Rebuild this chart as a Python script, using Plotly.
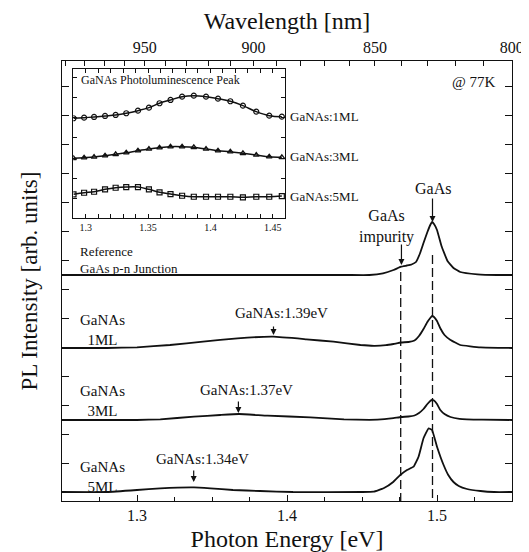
import plotly.graph_objects as go

# ---------------- data ----------------
# Main panel: photon energy [eV] and PL intensity above each spectrum's baseline [arb. units]
E_ref = [1.25, 1.30, 1.35, 1.40, 1.44, 1.455, 1.464, 1.471, 1.476, 1.480, 1.483, 1.486, 1.4885,
         1.491, 1.4936, 1.4955, 1.4967, 1.498, 1.500, 1.503, 1.507, 1.511, 1.5155, 1.527, 1.54, 1.55]
I_ref = [0, 0, 0, 0, 0, 0, 1.7, 5, 8.3, 9.5, 10.5, 13, 21,
         32, 43, 50, 53, 51, 45, 29, 14, 7, 3, 0.7, 0, 0]

E_1ml = [1.25, 1.28, 1.30, 1.322, 1.344, 1.367, 1.391, 1.413, 1.431, 1.449, 1.458, 1.466, 1.471,
         1.476, 1.481, 1.485, 1.488, 1.491, 1.4936, 1.4955, 1.4967, 1.498, 1.500, 1.5022, 1.505,
         1.509, 1.5155, 1.529, 1.55]
I_1ml = [0, 0, 0.7, 3, 6.3, 9.7, 11.3, 8.7, 6.3, 3, 2.2, 2.8, 4,
         5.5, 6, 7.5, 12, 19, 26, 30, 32, 31, 27, 19.7, 13,
         8, 3, 0.7, 0]

E_3ml = [1.25, 1.30, 1.3155, 1.338, 1.3555, 1.368, 1.387, 1.4155, 1.438, 1.455, 1.465, 1.471,
         1.476, 1.481, 1.485, 1.488, 1.491, 1.4936, 1.4955, 1.4967, 1.498, 1.500, 1.5022, 1.505,
         1.509, 1.515, 1.53, 1.55]
I_3ml = [0, 0, 0.7, 3.3, 5, 6, 4.3, 2.7, 0.7, 0.2, 0.8, 1.8,
         3, 3.5, 4.5, 7, 11, 16, 19, 20, 19.5, 16, 10, 6,
         3, 1.2, 0.3, 0]

E_5ml = [1.25, 1.28, 1.30, 1.3155, 1.338, 1.349, 1.364, 1.382, 1.404, 1.45, 1.4577, 1.4644,
         1.471, 1.4755, 1.48, 1.4844, 1.4877, 1.491, 1.4944, 1.4967, 1.500, 1.5044, 1.5075,
         1.511, 1.5145, 1.52, 1.529, 1.538, 1.55]
I_5ml = [0, 0, 2, 3.7, 4.7, 3.7, 2, 1, 0, 0, 0.3, 3.7,
         10.3, 17, 22, 25.3, 35.3, 53.7, 63.7, 62, 45.3, 27, 17,
         10, 6, 3, 1, 0, 0]

# vertical offsets of the stacked spectra
OFF_REF, OFF_1ML, OFF_3ML, OFF_5ML = 217, 144, 72, 0

# Inset: GaNAs photoluminescence peak
E_inset = [1.2902, 1.2987, 1.3067, 1.3155, 1.324, 1.3325, 1.3419, 1.3507, 1.3592, 1.368,
           1.3773, 1.3867, 1.3965, 1.4061, 1.416, 1.4261, 1.4368, 1.4472, 1.4573]
I_inset_1ml = [9.97, 10.03, 10.1, 10.2, 10.3, 10.47, 10.73, 11.03, 11.47, 11.8,
               12.13, 12.23, 12.13, 11.93, 11.67, 11.23, 10.63, 10.23, 10.13]
I_inset_3ml = [5.97, 6.03, 6.1, 6.23, 6.37, 6.53, 6.73, 6.9, 7.03, 7.13,
               7.13, 7.07, 6.9, 6.73, 6.63, 6.47, 6.3, 6.13, 6.07]
I_inset_5ml = [2.37, 2.53, 2.63, 2.87, 3.03, 3.1, 3.1, 2.87, 2.57, 2.4,
               2.23, 2.13, 2.13, 2.13, 2.13, 2.07, 2.13, 2.13, 2.2]

# Top axis wavelength ticks [nm]
WL_TICKS = list(range(990, 799, -10))
WL_LABELED = [950, 900, 850, 800]

# Peak markers
E_GAAS = 1.497
E_IMP = 1.4758

FONT = "Liberation Serif, Times New Roman, serif"
INK = "#111111"

X_RANGE = [1.25, 1.55]
Y_RANGE = [-9, 431]

fig = go.Figure()

def add_spec(E, I, off):
    fig.add_trace(go.Scatter(x=E, y=[v + off for v in I], mode="lines",
                             line=dict(color=INK, width=1.8, shape="spline", smoothing=0.3),
                             showlegend=False, hoverinfo="skip"))

add_spec(E_ref, I_ref, OFF_REF)
add_spec(E_1ml, I_1ml, OFF_1ML)
add_spec(E_3ml, I_3ml, OFF_3ML)
add_spec(E_5ml, I_5ml, OFF_5ML)

# invisible trace to activate top axis
fig.add_trace(go.Scatter(x=[1.4], y=[0], xaxis="x2", yaxis="y", mode="markers",
                         marker=dict(opacity=0), showlegend=False, hoverinfo="skip"))

# inset traces
for I, sym in [(I_inset_1ml, "circle-open"), (I_inset_3ml, "triangle-up-open"),
               (I_inset_5ml, "square-open")]:
    fig.add_trace(go.Scatter(x=E_inset, y=I, xaxis="x3", yaxis="y3", mode="lines+markers",
                             line=dict(color=INK, width=1.5, shape="spline"),
                             marker=dict(symbol=sym, size=5, color=INK, line=dict(width=1.2)),
                             showlegend=False, hoverinfo="skip"))

# dashed lines
fig.add_shape(type="line", x0=E_GAAS, x1=E_GAAS, y0=237, y1=Y_RANGE[0], xref="x", yref="y",
              line=dict(color=INK, width=1.3, dash="9px,4px"))
fig.add_shape(type="line", x0=E_IMP, x1=E_IMP, y0=220, y1=Y_RANGE[0], xref="x", yref="y",
              line=dict(color=INK, width=1.3, dash="9px,4px"))

ann = []
def text(x, y, s, size=15, xanchor="center", xref="x", yref="y", align="center"):
    ann.append(dict(x=x, y=y, text=s, showarrow=False, xref=xref, yref=yref, xanchor=xanchor,
                    yanchor="middle", align=align, font=dict(family=FONT, size=size, color=INK)))

def arrow(x, y0, y1):
    ann.append(dict(x=x, y=y1, ax=x, ay=y0, xref="x", yref="y", axref="x", ayref="y",
                    text="", showarrow=True, arrowhead=2, arrowsize=1, arrowwidth=1.2,
                    arrowcolor=INK))

text(1.497, 304, "GaAs", size=16)
arrow(1.497, 295, 270)
text(1.466, 266, "GaAs<br>impurity", size=16)
arrow(1.4763, 249, 227)

text(1.3962, 179, "GaNAs:1.39eV", size=15)
arrow(1.391, 167, 157)
text(1.3729, 102, "GaNAs:1.37eV", size=15)
arrow(1.3676, 92, 79)
text(1.3435, 33, "GaNAs:1.34eV", size=15)
arrow(1.3378, 23, 10)

text(1.2769, 162.5, "GaNAs<br>1ML", size=15)
text(1.2769, 91, "GaNAs<br>3ML", size=15)
text(1.2769, 15.5, "GaNAs<br>5ML", size=15)
text(1.2609, 232, "Reference<br>GaAs p-n Junction", size=13, xanchor="left", align="left")
text(1.5409, 410, "@ 77K", size=15, xanchor="right")

# inset texts
text(1.2945, 13.8, "GaNAs Photoluminescence Peak", size=12, xanchor="left", xref="x3", yref="y3")
text(0.502, 0.873, "GaNAs:1ML", size=13, xanchor="left", xref="paper", yref="paper")
text(0.502, 0.782, "GaNAs:3ML", size=13, xanchor="left", xref="paper", yref="paper")
text(0.502, 0.691, "GaNAs:5ML", size=13, xanchor="left", xref="paper", yref="paper")

wl_vals = [1239.84 / w for w in WL_TICKS]
wl_text = [str(w) if w in WL_LABELED else "" for w in WL_TICKS]

axis_common = dict(showline=True, linecolor=INK, linewidth=1.3, showgrid=False, zeroline=False,
                   ticks="inside", tickcolor=INK, tickfont=dict(family=FONT, size=16, color=INK))

# page has an 8px body margin; figure is offset by it inside the 529x552 window
fig.update_layout(
    width=519, height=544,
    margin=dict(l=54, r=15, t=53, b=51, autoexpand=False),
    paper_bgcolor="white", plot_bgcolor="white",
    font=dict(family=FONT, color=INK),
    annotations=ann,
    xaxis=dict(**axis_common, range=X_RANGE, dtick=0.1, tick0=1.3, tickformat=".1f", ticklen=6,
               minor=dict(dtick=0.025, tick0=1.25, ticks="inside", ticklen=4, tickcolor=INK),
               title=dict(text="Photon Energy [eV]", font=dict(family=FONT, size=24, color=INK),
                          standoff=9),
               automargin=False, anchor="y"),
    xaxis2=dict(**axis_common, range=X_RANGE, overlaying="x", side="top", anchor="y",
                tickmode="array", tickvals=wl_vals, ticktext=wl_text, ticklen=5,
                ticklabeloverflow="allow",
                title=dict(text="Wavelength [nm]", font=dict(family=FONT, size=24, color=INK),
                           standoff=4),
                automargin=False),
    yaxis=dict(**axis_common, range=Y_RANGE, dtick=29, tick0=0, ticklen=7, mirror="ticks",
               showticklabels=False,
               title=dict(text="PL Intensity [arb. units]", font=dict(family=FONT, size=23, color=INK),
                          standoff=16),
               automargin=False),
    xaxis3=dict(showline=True, linecolor=INK, linewidth=1.1, showgrid=False, zeroline=False,
                domain=[0.025, 0.496], anchor="y3", range=[1.29, 1.46], mirror="ticks",
                ticks="inside", ticklen=4, tickcolor=INK, dtick=0.05, tick0=1.3,
                minor=dict(dtick=0.01, tick0=1.29, ticks="inside", ticklen=4, tickcolor=INK),
                tickfont=dict(family=FONT, size=10, color=INK)),
    yaxis3=dict(showline=True, linecolor=INK, linewidth=1.1, showgrid=False, zeroline=False,
                domain=[0.643, 0.982], anchor="x3", range=[0, 14.9], mirror="ticks",
                ticks="inside", ticklen=4, tickcolor=INK, dtick=2, showticklabels=False),
)

fig.write_html("out.html")
